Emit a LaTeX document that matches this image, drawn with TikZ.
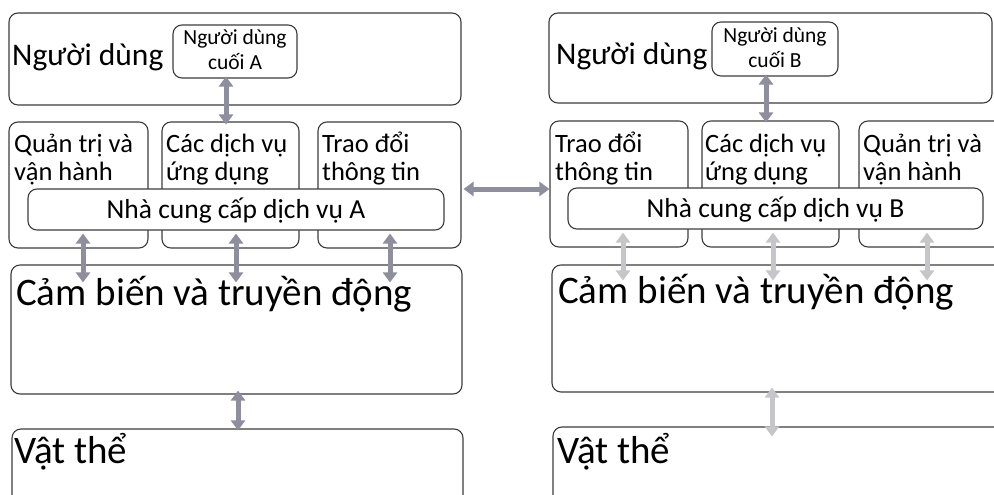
\documentclass[tikz,border=0pt]{standalone}
\usepackage{fontspec}
\setmainfont{Carlito}
\usetikzlibrary{arrows.meta}
\definecolor{boxline}{HTML}{3C3C3C}
\definecolor{arrdark}{HTML}{8E8E9C}
\definecolor{arrlight}{HTML}{C6C6CA}
\tikzset{
  box/.style={draw=boxline, line width=1.1pt, rounded corners=9pt, fill=white, inner sep=0pt, anchor=center},
  lbl/.style={anchor=base west, inner sep=0pt, text=black},
  ctr/.style={anchor=base, inner sep=0pt, text=black},
  fh/.style={font=\fontsize{31.5}{34}\selectfont},
  fbig/.style={font=\fontsize{39}{40}\selectfont},
  fmid/.style={font=\fontsize{26.5}{28}\selectfont},
  fncc/.style={font=\fontsize{27.5}{29}\selectfont},
  fsm/.style={font=\fontsize{21.5}{23}\selectfont},
  darrow/.style={draw=arrdark, line width=5pt, {Triangle[width=14pt,length=10pt]}-{Triangle[width=14pt,length=10pt]}},
  larrow/.style={draw=arrlight, line width=5pt, {Triangle[width=14pt,length=10pt]}-{Triangle[width=14pt,length=10pt]}},
}
\begin{document}
\begin{tikzpicture}[x=1pt,y=-1pt]
\clip (0,0) rectangle (994,495);
\fill[white] (0,0) rectangle (994,495);

% ---------- Left side (A) ----------
\node[box, minimum width=452pt, minimum height=92pt] (userA) at (235,59) {};
\node[box, minimum width=124pt, minimum height=53pt] (cuoiA) at (235,51.5) {};
\node[box, minimum width=139pt, minimum height=126pt] (qtA) at (78.5,185) {};
\node[box, minimum width=137pt, minimum height=126pt] (dvA) at (230.5,185) {};
\node[box, minimum width=143pt, minimum height=126pt] (tdA) at (389.5,185) {};
\node[box, minimum width=416pt, minimum height=41pt] (nccA) at (236,209.5) {};
\node[box, minimum width=451pt, minimum height=129pt] (cbA) at (236.5,329.5) {};
\node[box, minimum width=451pt, minimum height=100pt] (vtA) at (237.5,479) {};

\node[lbl, fh] (tUserA) at (12,66) {Người dùng};
\node[ctr, fsm] (tCuoiA1) at (235,45) {Người dùng};
\node[ctr, fsm] (tCuoiA2) at (235,70) {cuối A};
\node[lbl, fmid] (tQtA1) at (14,152) {Quản trị và};
\node[lbl, fmid] (tQtA2) at (14,180) {vận hành};
\node[lbl, fmid] (tDvA1) at (166,152) {Các dịch vụ};
\node[lbl, fmid] (tDvA2) at (166,180) {ứng dụng};
\node[lbl, fmid] (tTdA1) at (322,152) {Trao đổi};
\node[lbl, fmid] (tTdA2) at (322,180) {thông tin};
\node[ctr, fncc] (tNccA) at (236,218) {Nhà cung cấp dịch vụ A};
\node[lbl, fbig] (tCbA) at (16,305) {Cảm biến và truyền động};
\node[lbl, fbig] (tVtA) at (14,463) {Vật thể};

% ---------- Right side (B) ----------
\node[box, minimum width=443pt, minimum height=90pt] (userB) at (770.5,58) {};
\node[box, minimum width=126pt, minimum height=54pt] (cuoiB) at (775,49) {};
\node[box, minimum width=138pt, minimum height=126pt] (tdB) at (619,184) {};
\node[box, minimum width=137pt, minimum height=126pt] (dvB) at (770.5,184) {};
\node[box, minimum width=150pt, minimum height=126pt] (qtB) at (934,184) {};
\node[box, minimum width=415pt, minimum height=41pt] (nccB) at (775.5,208.5) {};
\node[box, minimum width=460pt, minimum height=127pt] (cbB) at (782,328.5) {};
\node[box, minimum width=460pt, minimum height=100pt] (vtB) at (783,477) {};

\node[lbl, fh] (tUserB) at (556,65) {Người dùng};
\node[ctr, fsm] (tCuoiB1) at (775,43) {Người dùng};
\node[ctr, fsm] (tCuoiB2) at (775,68) {cuối B};
\node[lbl, fmid] (tTdB1) at (555,152) {Trao đổi};
\node[lbl, fmid] (tTdB2) at (555,180) {thông tin};
\node[lbl, fmid] (tDvB1) at (705,152) {Các dịch vụ};
\node[lbl, fmid] (tDvB2) at (705,180) {ứng dụng};
\node[lbl, fmid] (tQtB1) at (863,152) {Quản trị và};
\node[lbl, fmid] (tQtB2) at (863,180) {vận hành};
\node[ctr, fncc] (tNccB) at (775.5,217) {Nhà cung cấp dịch vụ B};
\node[lbl, fbig] (tCbB) at (558,303) {Cảm biến và truyền động};
\node[lbl, fbig] (tVtB) at (557,463) {Vật thể};

% ---------- Arrows A ----------
\draw[darrow, shorten <=-2pt, shorten >=-3pt]
  ([xshift=-9pt]cuoiA.south) -- ([xshift=-9pt]cuoiA.south |- dvA.north);
\draw[darrow, shorten <=-15pt, shorten >=-18pt]
  ([xshift=4.5pt]qtA.south) -- ([xshift=4.5pt]qtA.south |- cbA.north);
\draw[darrow, shorten <=-15pt, shorten >=-18pt]
  ([xshift=5.5pt]dvA.south) -- ([xshift=5.5pt]dvA.south |- cbA.north);
\draw[darrow, shorten <=-15pt, shorten >=-18pt]
  ([xshift=0.5pt]tdA.south) -- ([xshift=0.5pt]tdA.south |- cbA.north);
\draw[darrow, shorten <=-4pt, shorten >=-2pt]
  ([xshift=1.5pt]cbA.south) -- ([xshift=1.5pt]cbA.south |- vtA.north);

% ---------- Horizontal arrow ----------
\draw[darrow, shorten <=2pt, shorten >=0pt]
  ([yshift=-4pt]tdA.east) -- ([yshift=-4pt]tdA.east -| tdB.west);

% ---------- Arrows B ----------
\draw[darrow, shorten <=-2pt, shorten >=-2pt]
  ([xshift=-9pt]cuoiB.south) -- ([xshift=-9pt]cuoiB.south |- dvB.north);
\draw[larrow, shorten <=-15pt, shorten >=-16pt]
  ([xshift=4pt]tdB.south) -- ([xshift=4pt]tdB.south |- cbB.north);
\draw[larrow, shorten <=-15pt, shorten >=-16pt]
  ([xshift=2.5pt]dvB.south) -- ([xshift=2.5pt]dvB.south |- cbB.north);
\draw[larrow, shorten <=-15pt, shorten >=-16pt]
  ([xshift=-7pt]qtB.south) -- ([xshift=-7pt]qtB.south |- cbB.north);
\draw[larrow, shorten <=-5pt, shorten >=-10pt]
  ([xshift=-10pt]cbB.south) -- ([xshift=-10pt]cbB.south |- vtB.north);
\end{tikzpicture}
\end{document}
